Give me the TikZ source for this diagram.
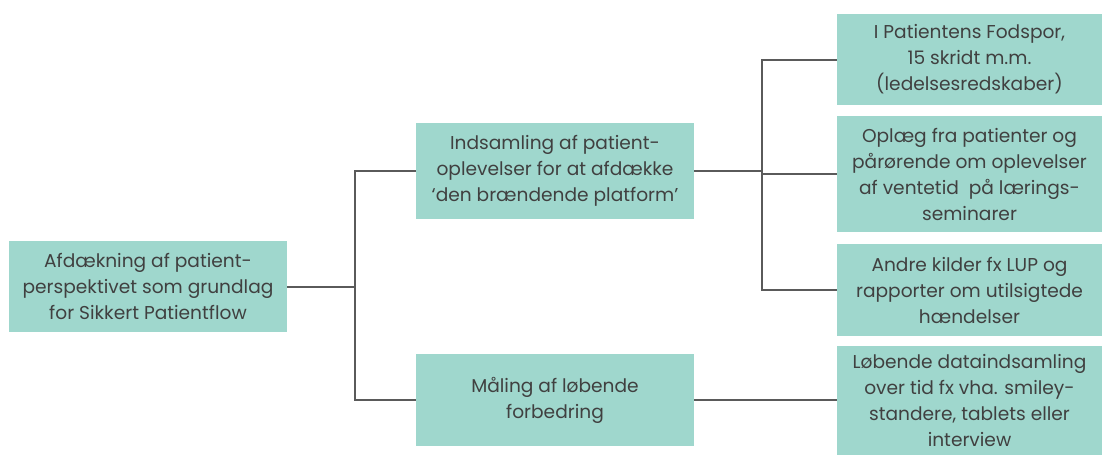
\documentclass[tikz,border=0pt]{standalone}
\usepackage{fontspec}
\setmainfont{Poppins}
\definecolor{boxfill}{HTML}{9FD7CD}
\definecolor{txt}{HTML}{404040}
\definecolor{linec}{HTML}{5A5A5A}
\begin{document}
\begin{tikzpicture}[x=1pt,y=-1pt,
  box/.style={fill=boxfill,draw=none,text=txt,align=center,inner sep=0pt,
    font=\fontsize{18.6}{26}\selectfont,anchor=center},
  conn/.style={draw=linec,line width=2pt}]
\useasboundingbox (0,0) rectangle (1102,455);
\node[box,minimum width=278pt,minimum height=91pt] (root) at (148,286.5)
  {Afdækning af patient-\\perspektivet som grundlag\\for Sikkert Patientflow};
\node[box,minimum width=278pt,minimum height=96pt] (ind) at (555,171)
  {Indsamling af patient-\\oplevelser for at afdække\\‘den brændende platform’};
\node[box,minimum width=278pt,minimum height=92pt] (mal) at (555,400)
  {Måling af løbende\\forbedring};
\node[box,minimum width=265pt,minimum height=91pt] (b1) at (969.5,59.5)
  {I Patientens Fodspor,\\15 skridt m.m.\\(ledelsesredskaber)};
\node[box,minimum width=265pt,minimum height=116pt] (b2) at (969.5,174)
  {Oplæg fra patienter og\\pårørende om oplevelser\\af ventetid\ \ på lærings-\\seminarer};
\node[box,minimum width=265pt,minimum height=92pt] (b3) at (969.5,290)
  {Andre kilder fx LUP og\\rapporter om utilsigtede\\hændelser};
\node[box,minimum width=265pt,minimum height=109pt] (b4) at (969.5,400.5)
  {Løbende dataindsamling\\over tid fx vha. smiley-\\standere, tablets eller\\interview};
\coordinate (j1) at (355,287);
\coordinate (j2) at (762,171);
\draw[conn] (root.east) -- (root.east -| j1);
\draw[conn] (ind.west) -- (ind.west -| j1) -- (mal.west -| j1) -- (mal.west);
\draw[conn] (ind.east) -- (ind.east -| j2);
\draw[conn] (b1.west) -- (b1.west -| j2) -- (b3.west -| j2) -- (b3.west);
\draw[conn] (b2.west) -- (b2.west -| j2);
\draw[conn] (mal.east) -- (mal.east -| b4.west);
\end{tikzpicture}
\end{document}
